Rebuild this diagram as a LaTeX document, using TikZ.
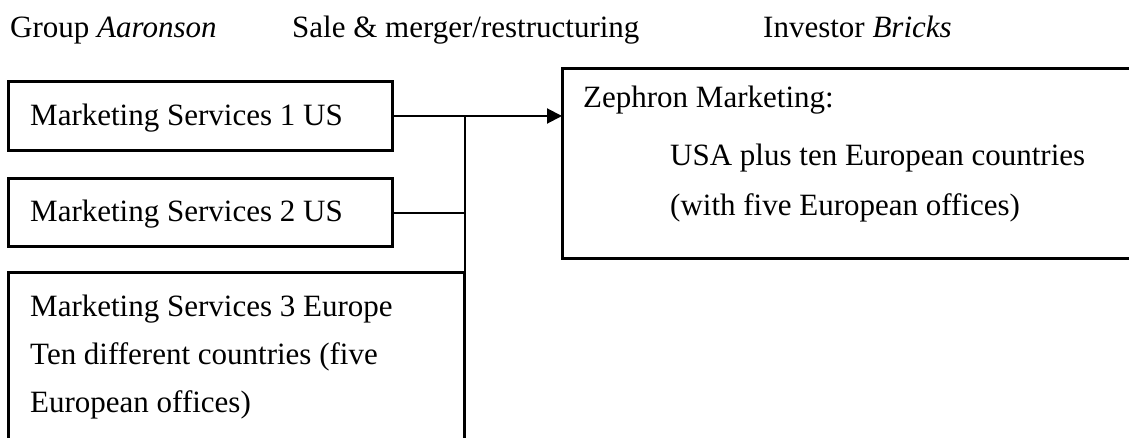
\documentclass[tikz,border=0pt]{standalone}
\usepackage{fontspec}
\setmainfont{Liberation Serif}
\usetikzlibrary{arrows.meta}

\begin{document}
\begin{tikzpicture}[x=1pt,y=1pt,
  box/.style={draw=black, line width=3pt, inner sep=0pt, outer sep=0pt},
  conn/.style={draw=black, line width=2pt},
  txt/.style={anchor=base west, inner sep=0pt, font=\fontsize{31}{37}\selectfont},
  tip/.style={-{Triangle[length=15pt,width=15pt]}}]

  \useasboundingbox (0,0) rectangle (1129,-438);
  \clip (0,0) rectangle (1129,-438);

  % column headings
  \node[txt] (hA) at (10,-38)  {Group \textit{Aaronson}};
  \node[txt] (hB) at (292,-38) {Sale \& merger/restructuring};
  \node[txt] (hC) at (763,-38) {Investor \textit{Bricks}};

  % source units
  \node[box, minimum width=384pt, minimum height=69pt]    (b1) at (200.5,-116)    {};
  \node[box, minimum width=384pt, minimum height=68.5pt]  (b2) at (200.5,-212.75) {};
  \node[box, minimum width=456pt, minimum height=187.5pt] (b3) at (236.5,-366.25) {};

  % target company
  \node[box, minimum width=588pt, minimum height=190.5pt] (z) at (856,-163.75) {};

  % texts
  \node[txt] (t1)  at (30,-126) {Marketing Services 1 US};
  \node[txt] (t2)  at (30,-222) {Marketing Services 2 US};
  \node[txt] (t3a) at (30,-316) {Marketing Services 3 Europe};
  \node[txt] (t3b) at (30,-364) {Ten different countries (five};
  \node[txt] (t3c) at (30,-412) {European offices)};
  \node[txt] (za)  at (583,-108) {Zephron Marketing:};
  \node[txt] (zb)  at (670,-166) {USA plus ten European countries};
  \node[txt] (zc)  at (670,-216) {(with five European offices)};

  % connectors
  \coordinate (j) at (b3.north east |- b1.east);
  \draw[conn, tip] (b1.east) -- (z.west |- b1.east);
  \draw[conn] (b2.east) -- (b2.east -| j);
  \draw[conn] (j) -- (b3.north east);
\end{tikzpicture}
\end{document}
